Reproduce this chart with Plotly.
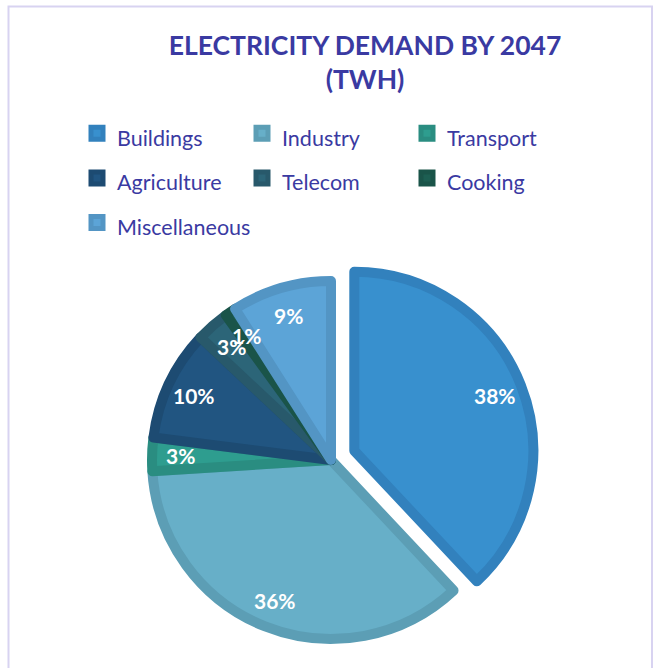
import math
import plotly.graph_objects as go

categories = ["Buildings", "Industry", "Transport", "Agriculture", "Telecom", "Cooking", "Miscellaneous"]
values = [38, 36, 3, 10, 3, 1, 9]
fill_colors = ["#3890CE", "#67AFC8", "#2E9D8F", "#215581", "#2C6578", "#1D5E52", "#5CA4D7"]
edge_colors = ["#3281BD", "#5C9EB5", "#2A8D81", "#1D4B72", "#28596B", "#1A5449", "#5395C4"]
pulls = [0.14, 0, 0, 0, 0, 0, 0]

W, H = 655, 668
CX, CY, R = 331, 460, 179          # pie centre and path radius in pixels
LINE_W = 10
maxpull = max(pulls)
half = R * (1 + maxpull)
dom_x = [(CX - half) / W, (CX + half) / W]
dom_y = [1 - (CY + half) / H, 1 - (CY - half) / H]

fig = go.Figure(go.Pie(
    labels=[f"<span style='font-size:21.5px'>{c}</span>" for c in categories],
    values=values,
    sort=False,
    direction="clockwise",
    rotation=0,
    pull=pulls,
    textinfo="none",
    hoverinfo="label+percent",
    marker=dict(colors=fill_colors, line=dict(color=edge_colors, width=LINE_W)),
    domain=dict(x=dom_x, y=dom_y),
))

# percentage labels placed from the data
total = sum(values)
cum = 0
for v, p in zip(values, pulls):
    theta = 2 * math.pi * (cum + v / 2) / total
    cum += v
    rho = 0.82 * (R + LINE_W / 2)
    shift = p * R
    px = CX + (rho + shift) * math.sin(theta)
    py = CY - (rho + shift) * math.cos(theta)
    fig.add_annotation(
        x=px / W, y=1 - py / H, xref="paper", yref="paper",
        xanchor="center", yanchor="middle",
        text=f"<b>{round(100 * v / total)}%</b>", showarrow=False,
        font=dict(family="Lato", size=21, color="white"),
    )

# outer frame
fig.add_shape(type="rect", xref="paper", yref="paper",
              x0=8.5 / W, x1=652 / W, y0=-0.05, y1=1 - 6.5 / H,
              line=dict(color="#D8D3F1", width=2), fillcolor="rgba(0,0,0,0)", layer="below")

fig.update_layout(
    width=W, height=H,
    margin=dict(l=0, r=0, t=0, b=0),
    paper_bgcolor="white", plot_bgcolor="white",
    font=dict(family="Lato", color="#3A3AA2"),
    title=dict(
        text="<b>ELECTRICITY DEMAND BY 2047<br>(TWH)</b>",
        x=365 / W, xanchor="center", xref="paper",
        y=1 - 55 / H, yanchor="top", yref="container",
        font=dict(family="Lato", size=26.5, color="#3A3AA2"),
    ),
    showlegend=True,
    legend=dict(
        orientation="h", x=77 / W, xanchor="left", y=1 - 106 / H, yanchor="top",
        entrywidth=120, entrywidthmode="pixels",
        font=dict(family="Lato", size=32, color="#3A3AA2"),
        bgcolor="rgba(0,0,0,0)", traceorder="normal",
    ),
)

fig.write_html("out.html")
